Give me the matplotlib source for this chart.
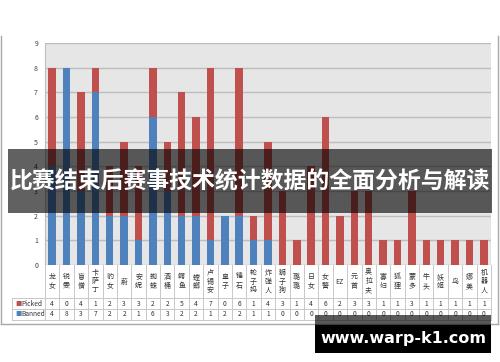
import matplotlib.pyplot as plt
import numpy as np
from matplotlib.patches import Rectangle
from matplotlib.lines import Line2D

plt.rcParams['font.family'] = ['Noto Sans CJK SC', 'DejaVu Sans']

heroes = ['龙女', '锐雯', '盲僧', '卡萨丁', '豹女', '蔚', '安妮', '蜘蛛', '酒桶', '鳄鱼',
          '螳螂', '卢锡安', '皇子', '锤石', '轮子妈', '炸弹人', '狮子狗', '璐璐', '日女', '女警',
          'EZ', '元首', '奥拉夫', '寡妇', '狐狸', '蒙多', '牛头', '妖姬', '鸟', '娜美', '机器人']
picked = [4, 0, 4, 1, 2, 3, 3, 2, 2, 5, 4, 7, 0, 6, 1, 4, 3, 1, 4, 6, 2, 3, 3, 1, 1, 3, 1, 1, 1, 1, 1]
banned = [4, 8, 3, 7, 2, 2, 1, 6, 3, 2, 2, 1, 2, 2, 1, 1, 0, 0, 0, 0, 0, 0, 0, 0, 0, 0, 0, 0, 0, 0, 0]
yticks = list(range(10))

title = '比赛结束后赛事技术统计数据的全面分析与解读'
watermark = 'www.warp-k1.com'

RED = '#c0504d'
BLUE = '#4f81bd'
W, H = 500, 362


def fx(px):
    return px / W


def fy(py):
    return 1 - py / H


n = len(heroes)
x = np.arange(n)

fig = plt.figure(figsize=(5, 3.62), dpi=100)

# plot area
ax = fig.add_axes([fx(45), fy(265), fx(491) - fx(45), fy(43) - fy(265)])
ax.set_facecolor('#e6e6e6')
ax.bar(x, banned, 0.52, color=BLUE, zorder=3)
ax.bar(x, picked, 0.52, bottom=banned, color=RED, zorder=3)
ax.set_xlim(-0.5, n - 0.5)
ax.set_ylim(0, 9)
ax.set_yticks(yticks)
ax.set_xticks([])
ax.yaxis.grid(True, color='#bdbdbd', lw=1)
ax.set_axisbelow(True)
ax.tick_params(axis='y', length=0, labelsize=5, labelcolor='#404040', pad=5)
for s in ['top', 'right', 'bottom']:
    ax.spines[s].set_visible(False)
ax.spines['left'].set_color('#bdbdbd')

# data table under the chart, y in pixels
tax = fig.add_axes([fx(45), fy(320), fx(491) - fx(45), fy(265) - fy(320)])
tax.set_xlim(-0.5, n - 0.5)
tax.set_ylim(320, 265)
tax.axis('off')
colw = (491 - 45) / n
xl = -0.5 - (45 - 12) / colw
lc = '#c8c8c8'
for b in np.arange(-0.5, n):
    tax.plot([b, b], [265, 320], color=lc, lw=0.7, clip_on=False)
tax.plot([xl, xl], [298, 320], color=lc, lw=0.7, clip_on=False)
for yy in [298, 309, 320]:
    tax.plot([xl, n - 0.5], [yy, yy], color=lc, lw=0.7, clip_on=False)

for i, name in enumerate(heroes):
    lab = name if name.isascii() else '\n'.join(name)
    tax.text(i, 281.5, lab, ha='center', va='center', fontsize=5, linespacing=1.15, color='#333333')
    tax.text(i, 303.5, str(picked[i]), ha='center', va='center', fontsize=4.8, color='#333333')
    tax.text(i, 314.5, str(banned[i]), ha='center', va='center', fontsize=4.8, color='#333333')

for yy, lab, col in [(303.5, 'Picked', RED), (314.5, 'Banned', BLUE)]:
    tax.text(xl + 0.25, yy, '■', color=col, fontsize=4.5, ha='left', va='center', clip_on=False)
    tax.text(xl + 0.65, yy, lab, color='#333333', fontsize=4.8, ha='left', va='center', clip_on=False)

# outer frame of the chart picture
fc = '#a8a8a8'
fig.add_artist(Line2D([fx(1), fx(1)], [fy(36), fy(324)], color=fc, lw=1))
fig.add_artist(Line2D([fx(498), fx(498)], [fy(36), fy(324)], color=fc, lw=1))
fig.add_artist(Line2D([fx(1), fx(498)], [fy(324), fy(324)], color=fc, lw=1))

# title banner
fig.add_artist(Rectangle((fx(8), fy(213)), fx(492) - fx(8), fy(149) - fy(213),
                         transform=fig.transFigure, color='black', alpha=0.62, lw=0, zorder=10))
fig.text(0.5, fy(182), title, ha='center', va='center', fontsize=16.5, weight='bold',
         color='white', zorder=11)

# watermark box
fig.add_artist(Rectangle((fx(315), fy(325)), fx(491) - fx(315), fy(315) - fy(325),
                         transform=fig.transFigure, color='black', alpha=0.65, lw=0, zorder=10))
fig.add_artist(Rectangle((fx(315), fy(353)), fx(491) - fx(315), fy(325) - fy(353),
                         transform=fig.transFigure, color='black', lw=0, zorder=10))
fig.text(fx(403), fy(339), watermark, ha='center', va='center', fontsize=11.5, weight='bold',
         color='white', family='DejaVu Sans', zorder=11)

fig.savefig('out.png', dpi=100)
